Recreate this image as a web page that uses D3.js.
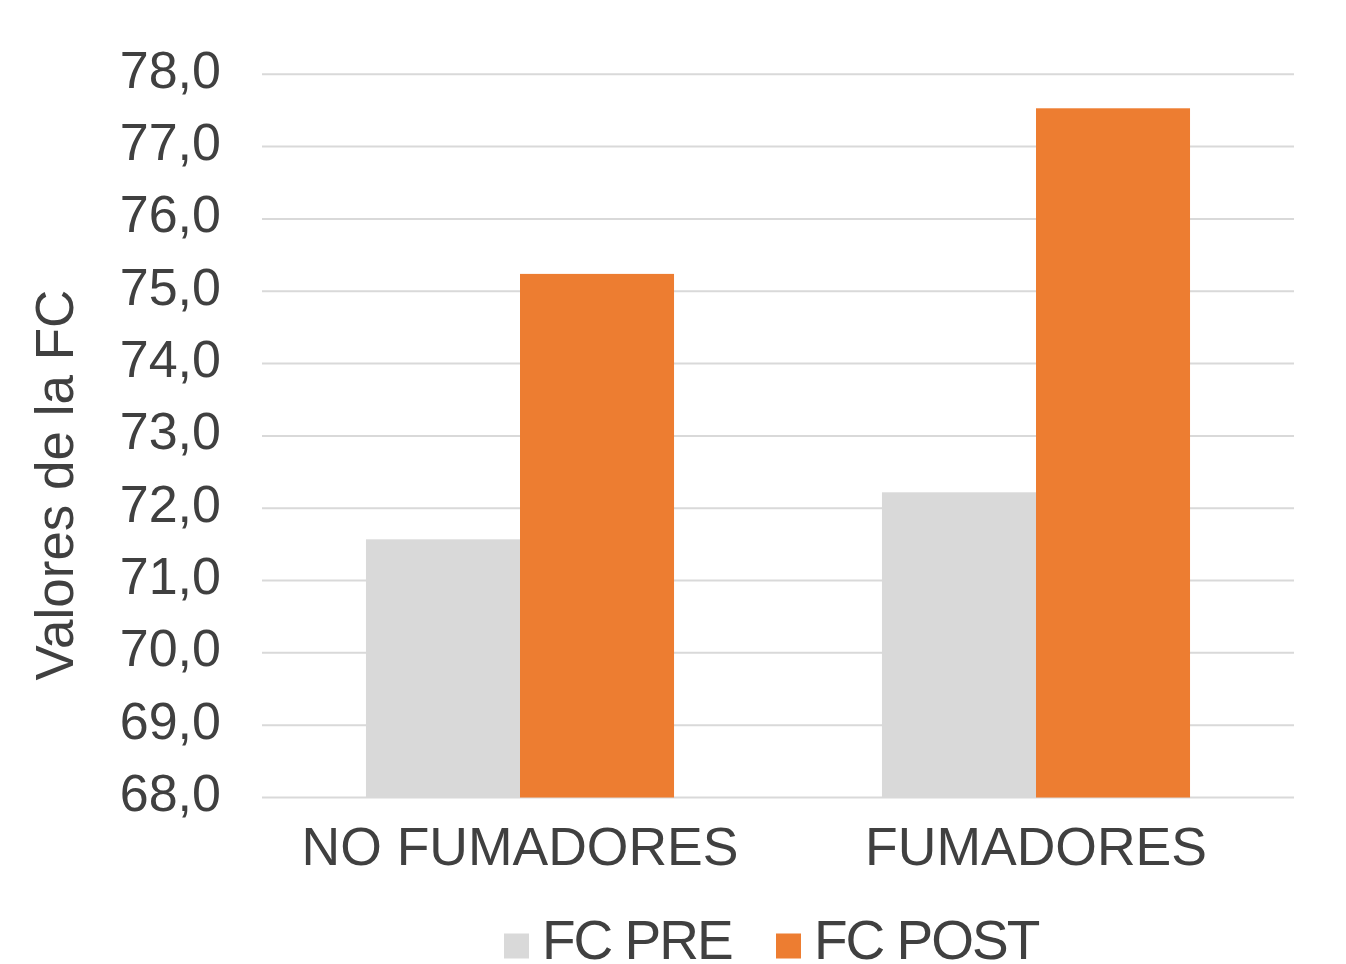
<!DOCTYPE html>
<html>
<head>
<meta charset="utf-8">
<script src="https://cdn.jsdelivr.net/npm/d3@7"></script>
<style>
  html, body { margin: 0; padding: 0; background: #fff; }
  svg { display: block; font-family: "Liberation Sans", Arial, Helvetica, sans-serif; }
</style>
</head>
<body>
<svg id="chart" width="1346" height="964"></svg>
<script>
// Heart-rate values (FC) before and after, by group
const categories = ["NO FUMADORES", "FUMADORES"];
const seriesNames = ["FC PRE", "FC POST"];
const fcPre = [71.57, 72.22];
const fcPost = [75.24, 77.53];
const yTicks = [68, 69, 70, 71, 72, 73, 74, 75, 76, 77, 78];

const colors = { "FC PRE": "#d9d9d9", "FC POST": "#ed7d31" };
const textColor = "#404040";

const svg = d3.select("#chart");
const margin = { left: 262, right: 52, top: 74.3, bottom: 166.5 };
const W = +svg.attr("width"), H = +svg.attr("height");
const innerW = W - margin.left - margin.right;
const innerH = H - margin.top - margin.bottom;

const g = svg.append("g").attr("transform", `translate(${margin.left},${margin.top})`);

const y = d3.scaleLinear().domain([68, 78]).range([innerH, 0]);
const x0 = d3.scaleBand().domain(categories).range([0, innerW]).paddingInner(0.403).paddingOuter(0.2015);
const x1 = d3.scaleBand().domain(seriesNames).range([0, x0.bandwidth()]).padding(0);

const fmt = v => d3.format(".1f")(v).replace(".", ",");

// Horizontal gridlines
g.append("g")
  .selectAll("line")
  .data(yTicks)
  .join("line")
  .attr("x1", 0).attr("x2", innerW)
  .attr("y1", d => y(d)).attr("y2", d => y(d))
  .attr("stroke", "#d9d9d9").attr("stroke-width", 2);

// Y axis tick labels
const yAxis = g.append("g")
  .call(d3.axisLeft(y).tickValues(yTicks).tickFormat(fmt).tickSize(0).tickPadding(41));
yAxis.select(".domain").remove();
yAxis.selectAll("text")
  .attr("fill", textColor)
  .style("font-size", "52px")
  .style("font-family", '"Liberation Sans", Arial, sans-serif')
  .attr("dy", "0.25em");

// Bars
const rows = categories.map((c, i) => ({ cat: c, values: [
  { s: "FC PRE", v: fcPre[i] }, { s: "FC POST", v: fcPost[i] }
]}));

g.append("g")
  .selectAll("g")
  .data(rows)
  .join("g")
  .attr("transform", d => `translate(${x0(d.cat)},0)`)
  .selectAll("rect")
  .data(d => d.values)
  .join("rect")
  .attr("x", d => x1(d.s))
  .attr("width", x1.bandwidth())
  .attr("y", d => y(d.v))
  .attr("height", d => y(68) - y(d.v))
  .attr("fill", d => colors[d.s]);

// Category axis
const xAxis = g.append("g")
  .attr("transform", `translate(0,${innerH})`)
  .call(d3.axisBottom(x0).tickSize(0).tickPadding(29.5));
xAxis.select(".domain").remove();
xAxis.selectAll("text")
  .attr("fill", textColor)
  .style("font-size", "53.5px")
  .style("font-family", '"Liberation Sans", Arial, sans-serif');

// Y axis title
svg.append("text")
  .attr("transform", `translate(73,485) rotate(-90)`)
  .attr("text-anchor", "middle")
  .attr("fill", textColor)
  .style("font-size", "53px")
  .text("Valores de la FC");

// Legend
const legendItems = [
  { s: "FC PRE", x: 504 },
  { s: "FC POST", x: 776 }
];
const lg = svg.append("g");
legendItems.forEach(it => {
  lg.append("rect")
    .attr("x", it.x).attr("y", 933.5)
    .attr("width", 25).attr("height", 25)
    .attr("fill", colors[it.s]);
  lg.append("text")
    .attr("x", it.x + 38).attr("y", 959)
    .attr("fill", textColor)
    .style("font-size", "55px")
    .style("letter-spacing", "-2px")
    .text(it.s);
});
</script>
</body>
</html>
